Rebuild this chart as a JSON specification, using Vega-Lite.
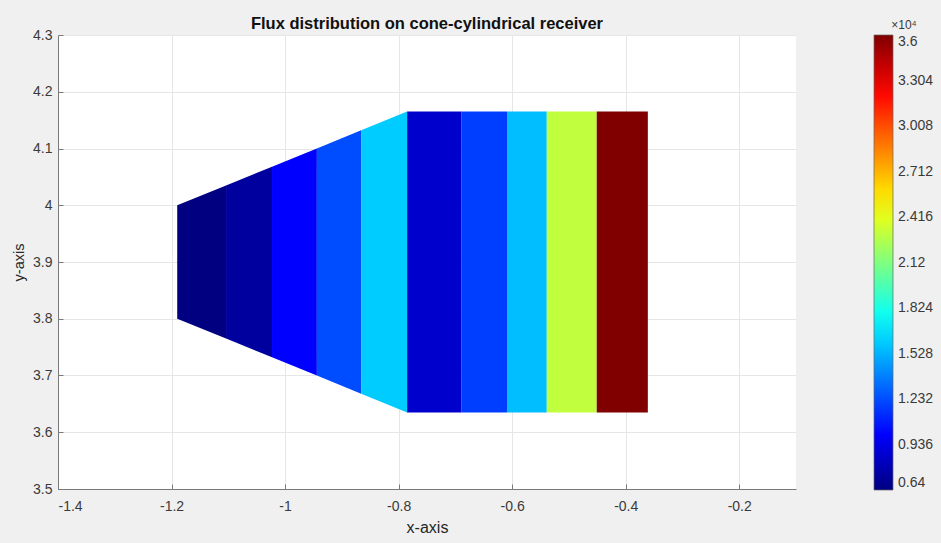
{
  "$schema": "https://vega.github.io/schema/vega-lite/v6.json",
  "autosize": "none",
  "width": 738,
  "height": 454,
  "padding": {"left": 58, "top": 35, "right": 145, "bottom": 54},
  "background": "#f0f0f0",
  "config": {
    "locale": {"number": {"decimal": ".", "thousands": ",", "grouping": [3], "currency": ["$", ""], "minus": "-"}},
    "view": {"fill": "white", "stroke": null},
    "font": "Liberation Sans",
    "axis": {
      "domainColor": "#7a7a7a",
      "tickColor": "#7a7a7a",
      "tickSize": -5,
      "labelColor": "#3a3a3a",
      "labelFontSize": 14,
      "titleColor": "#262626",
      "titleFontWeight": "normal",
      "gridColor": "#e6e6e6",
      "gridWidth": 1
    }
  },
  "title": {
    "text": "Flux distribution on cone-cylindrical receiver",
    "fontSize": 16.5,
    "fontWeight": "bold",
    "color": "#111111",
    "anchor": "middle",
    "frame": "group",
    "offset": 4,
    "dy": 16
  },
  "data": {
    "values": [
      {"band": "b01", "px": -1.19, "ytop": 4.0, "ybot": 3.8, "flux": 0.64},
      {"band": "b01", "px": -1.104, "ytop": 4.035, "ybot": 3.765, "flux": 0.64},
      {"band": "b02", "px": -1.104, "ytop": 4.035, "ybot": 3.765, "flux": 0.73},
      {"band": "b02", "px": -1.023, "ytop": 4.068, "ybot": 3.732, "flux": 0.73},
      {"band": "b03", "px": -1.023, "ytop": 4.068, "ybot": 3.732, "flux": 1.01},
      {"band": "b03", "px": -0.944, "ytop": 4.1, "ybot": 3.7, "flux": 1.01},
      {"band": "b04", "px": -0.944, "ytop": 4.1, "ybot": 3.7, "flux": 1.23},
      {"band": "b04", "px": -0.866, "ytop": 4.132, "ybot": 3.668, "flux": 1.23},
      {"band": "b05", "px": -0.866, "ytop": 4.132, "ybot": 3.668, "flux": 1.6},
      {"band": "b05", "px": -0.785, "ytop": 4.165, "ybot": 3.635, "flux": 1.6},
      {"band": "b06", "px": -0.785, "ytop": 4.165, "ybot": 3.635, "flux": 0.86},
      {"band": "b06", "px": -0.689, "ytop": 4.165, "ybot": 3.635, "flux": 0.86},
      {"band": "b07", "px": -0.689, "ytop": 4.165, "ybot": 3.635, "flux": 1.19},
      {"band": "b07", "px": -0.609, "ytop": 4.165, "ybot": 3.635, "flux": 1.19},
      {"band": "b08", "px": -0.609, "ytop": 4.165, "ybot": 3.635, "flux": 1.56},
      {"band": "b08", "px": -0.539, "ytop": 4.165, "ybot": 3.635, "flux": 1.56},
      {"band": "b09", "px": -0.539, "ytop": 4.165, "ybot": 3.635, "flux": 2.31},
      {"band": "b09", "px": -0.451, "ytop": 4.165, "ybot": 3.635, "flux": 2.31},
      {"band": "b10", "px": -0.451, "ytop": 4.165, "ybot": 3.635, "flux": 3.6},
      {"band": "b10", "px": -0.361, "ytop": 4.165, "ybot": 3.635, "flux": 3.6}
    ]
  },
  "mark": {"type": "area", "orient": "vertical", "opacity": 1},
  "encoding": {
    "detail": {"field": "band", "type": "nominal"},
    "x": {
      "field": "px",
      "type": "quantitative",
      "title": "x-axis",
      "scale": {"domain": [-1.4, -0.1], "nice": false, "zero": false},
      "axis": {"values": [-1.4, -1.2, -1, -0.8, -0.6, -0.4, -0.2], "format": "~g", "labelPadding": 15.5, "titlePadding": 6, "titleFontSize": 16}
    },
    "y": {
      "field": "ytop",
      "type": "quantitative",
      "stack": null,
      "title": "y-axis",
      "scale": {"domain": [3.5, 4.3], "nice": false, "zero": false},
      "axis": {"values": [3.5, 3.6, 3.7, 3.8, 3.9, 4.0, 4.1, 4.2, 4.3], "format": "~g", "labelPadding": 11, "titlePadding": 6, "titleFontSize": 14.5}
    },
    "y2": {"field": "ybot"},
    "color": {
      "field": "flux",
      "type": "quantitative",
      "scale": {
        "domain": [0.64, 3.6],
        "range": ["#000080", "#0000ff", "#0080ff", "#00ffff", "#80ff80", "#ffff00", "#ff8000", "#ff0000", "#800000"],
        "interpolate": "rgb"
      },
      "legend": {
        "orient": "none",
        "legendX": 816,
        "legendY": -15,
        "direction": "vertical",
        "gradientLength": 455,
        "gradientThickness": 19,
        "gradientStrokeColor": "#666666",
        "gradientStrokeWidth": 0.7,
        "title": "×10⁴",
        "titleFontSize": 12,
        "titleFontWeight": "normal",
        "titleColor": "#3a3a3a",
        "titlePadding": 3,
        "titleAnchor": "middle",
        "values": [0.64, 0.936, 1.232, 1.528, 1.824, 2.12, 2.416, 2.712, 3.008, 3.304, 3.6],
        "format": ".4~g",
        "labelFontSize": 14,
        "labelColor": "#3a3a3a",
        "labelOffset": 5,
        "encode": {"labels": {"dy": {"signal": "datum.value >= 3.59 ? -7 : (datum.value <= 0.65 ? 7 : 0)"}}}
      }
    }
  }
}
